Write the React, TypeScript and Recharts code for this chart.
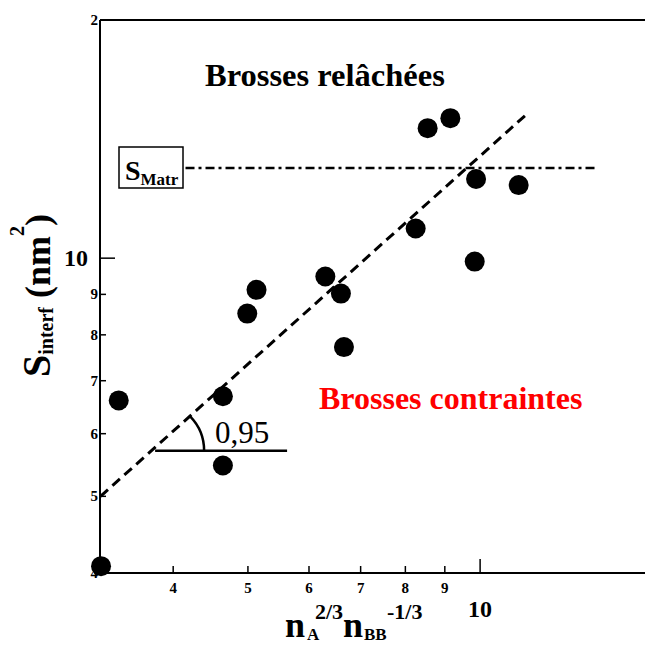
import React from 'react';
import { ScatterChart, Scatter, XAxis, YAxis, ReferenceLine, ReferenceDot } from 'recharts';

// points
const xValues = [3.4, 3.225, 4.64, 4.64, 4.99, 5.13, 6.3, 6.6, 6.66, 8.25, 8.55, 9.15, 9.88, 9.84, 11.22];
const yValues = [6.61, 4.08, 6.69, 5.47, 8.51, 9.12, 9.48, 9.02, 7.72, 10.9, 14.6, 15.03, 12.59, 9.9, 12.37];

const xTicks = [4, 5, 6, 7, 8, 9, 10];
const yTicks = [4, 5, 6, 7, 8, 9, 10, 20];
// the top frame ticks are offset from the bottom ones in the original
const topTicks = [9.73, 10.9];

const xDomain = [3.215, 16.36];
const yDomain = [4, 20];

// fitted power law (dashed) and matrix area (dash-dot)
const fitLine = [{ x: 3.22, y: 5.0 }, { x: 11.54, y: 15.26 }];
const sMatr = 13.0;
const sMatrRange = [4.15, 14.18];
const slopeBase = [{ x: 3.79, y: 5.71 }, { x: 5.62, y: 5.71 }];

const points = xValues.map((x, i) => ({ x, y: yValues[i] }));

const FONT = "'Liberation Serif', 'Times New Roman', serif";

const BottomTick = (props: any) => {
  const { x, y, payload } = props;
  const major = payload.value === 10;
  return (
    <g>
      <line x1={x} x2={x} y1={y} y2={y - (major ? 14 : 7)} stroke="#000" strokeWidth={1.5} />
      <text
        x={x}
        y={major ? y + 44 : y + 20}
        textAnchor="middle"
        fontFamily={FONT}
        fontWeight="bold"
        fontSize={major ? 24 : 15}
        fill="#000"
      >
        {payload.value}
      </text>
    </g>
  );
};

const LeftTick = (props: any) => {
  const { x, y, payload } = props;
  const major = payload.value === 10;
  const label = payload.value === 20 ? '2' : String(payload.value);
  return (
    <g>
      <line x1={x} x2={x + (major ? 15 : 6)} y1={y} y2={y} stroke="#000" strokeWidth={1.5} />
      <text
        x={major ? x - 12 : x - 2}
        y={major ? y + 8 : y + 5}
        textAnchor="end"
        fontFamily={FONT}
        fontWeight="bold"
        fontSize={major ? 24 : 15}
        fill="#000"
      >
        {label}
      </text>
    </g>
  );
};

const TopTick = (props: any) => {
  const { x, y, payload } = props;
  const major = payload.value > 10;
  return <line x1={x} x2={x} y1={y} y2={y + (major ? 15 : 8)} stroke="#000" strokeWidth={1.5} />;
};

const Dot = (props: any) => <circle cx={props.cx} cy={props.cy} r={10} fill="#000" />;

const SlopeArc = (props: any) => {
  const { cx, cy } = props;
  const r = 49;
  const a = (44 * Math.PI) / 180;
  return (
    <path
      d={`M ${cx + r} ${cy} A ${r} ${r} 0 0 0 ${cx + r * Math.cos(a)} ${cy - r * Math.sin(a)}`}
      fill="none"
      stroke="#000"
      strokeWidth={2.5}
    />
  );
};

export default function App() {
  return (
    <div style={{ position: 'absolute', left: 0, top: 0, width: 645, height: 648, background: '#fff' }}>
      <ScatterChart width={645} height={648} margin={{ top: 19, right: 0, left: 0, bottom: 0 }}>
        <XAxis
          dataKey="x"
          type="number"
          scale="log"
          domain={xDomain}
          ticks={xTicks}
          interval={0}
          height={75}
          tickLine={false}
          tickSize={0}
          tickMargin={0}
          tick={<BottomTick />}
          axisLine={{ stroke: '#000', strokeWidth: 2 }}
        />
        <XAxis
          xAxisId="top"
          orientation="top"
          type="number"
          scale="log"
          domain={xDomain}
          allowDataOverflow
          ticks={topTicks}
          interval={0}
          height={1}
          tickLine={false}
          tickSize={0}
          tickMargin={0}
          tick={<TopTick />}
          axisLine={{ stroke: '#000', strokeWidth: 2 }}
        />
        <YAxis
          dataKey="y"
          type="number"
          scale="log"
          domain={yDomain}
          ticks={yTicks}
          interval={0}
          width={100}
          tickLine={false}
          tickSize={0}
          tickMargin={0}
          tick={<LeftTick />}
          axisLine={{ stroke: '#000', strokeWidth: 2 }}
        />
        <ReferenceLine
          segment={fitLine}
          stroke="#000"
          strokeWidth={3}
          strokeDasharray="10 6"
          ifOverflow="visible"
        />
        <ReferenceLine
          segment={[{ x: sMatrRange[0], y: sMatr }, { x: sMatrRange[1], y: sMatr }]}
          stroke="#000"
          strokeWidth={2.5}
          strokeDasharray="9 4 3 4"
          ifOverflow="visible"
        />
        <ReferenceLine segment={slopeBase} stroke="#000" strokeWidth={2.5} ifOverflow="visible" />
        <ReferenceDot x={slopeBase[0].x} y={slopeBase[0].y} shape={<SlopeArc />} ifOverflow="visible" />
        <Scatter data={points} shape={<Dot />} isAnimationActive={false} />
      </ScatterChart>

      <svg
        width={645}
        height={648}
        style={{ position: 'absolute', left: 0, top: 0, pointerEvents: 'none' }}
        fontFamily={FONT}
      >
        <text x={205} y={86} fontSize={32.5} fontWeight="bold" fill="#000">
          Brosses relâchées
        </text>
        <text x={319} y={409} fontSize={32} fontWeight="bold" fill="#ff0000">
          Brosses contraintes
        </text>
        <text x={215} y={443} fontSize={31} fill="#000">
          0,95
        </text>

        <rect x={119} y={147} width={64} height={41} fill="#fff" stroke="#000" strokeWidth={1.5} />
        <text x={125} y={180} fontWeight="bold" fill="#000">
          <tspan fontSize={28}>S</tspan>
          <tspan fontSize={17} dy={5}>Matr</tspan>
        </text>

        <g transform="translate(50, 377) rotate(-90)">
          <text x={0} y={0} fontWeight="bold" fill="#000">
            <tspan fontSize={40}>S</tspan>
            <tspan fontSize={20} dy={3}>interf</tspan>
            <tspan fontSize={36} dy={-3}> (nm</tspan>
            <tspan fontSize={20} dy={-26}>2</tspan>
            <tspan fontSize={36} dy={26}>)</tspan>
          </text>
        </g>

        <g fontWeight="bold" fill="#000">
          <text x={315} y={619} fontSize={22}>2/3</text>
          <text x={387} y={619} fontSize={22}>-1/3</text>
          <text x={285} y={637} fontSize={36}>n</text>
          <text x={307} y={640} fontSize={17}>A</text>
          <text x={343} y={637} fontSize={36}>n</text>
          <text x={364} y={640} fontSize={17}>BB</text>
        </g>
      </svg>
    </div>
  );
}
